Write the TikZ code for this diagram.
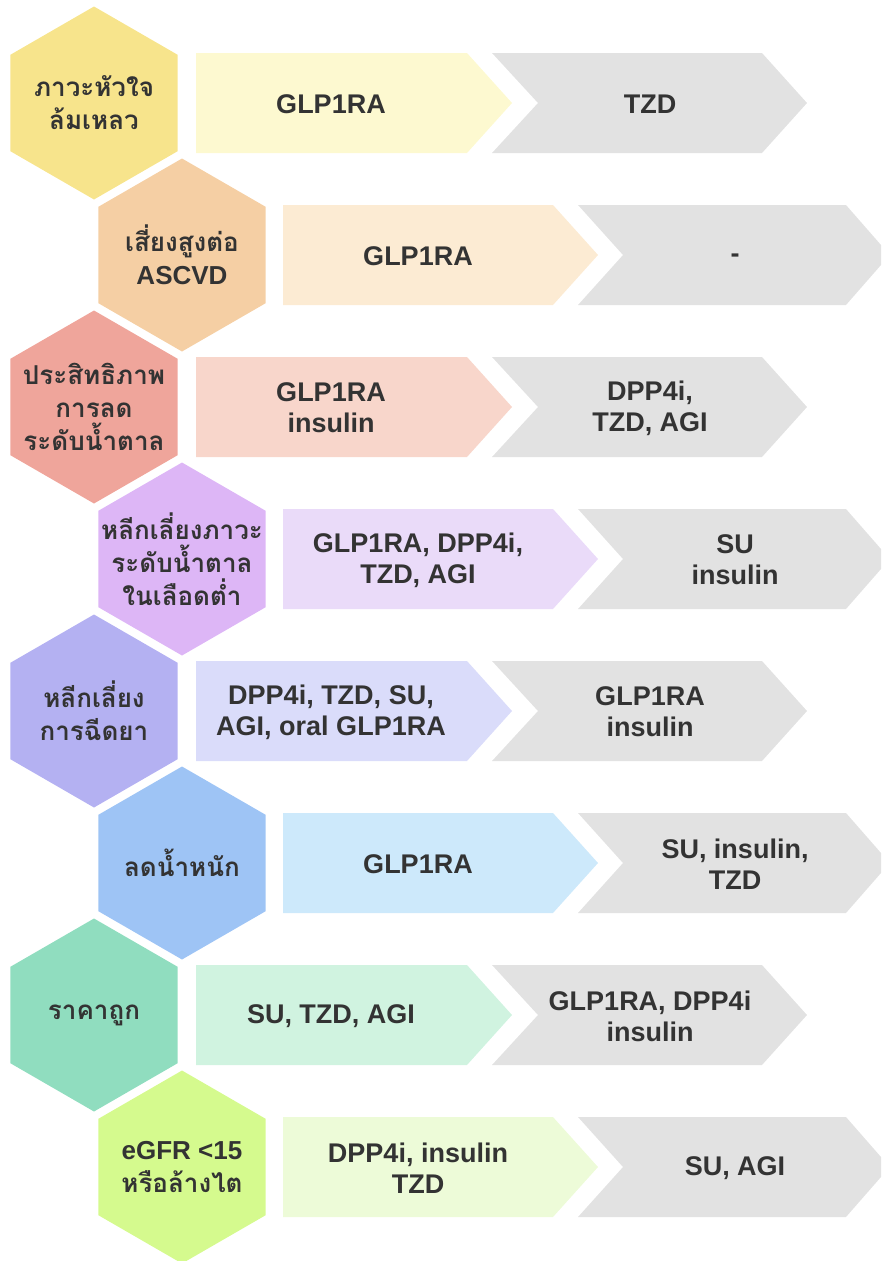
\documentclass[tikz,border=0pt]{standalone}
\usepackage{fontspec}
\setmainfont{Liberation Sans}
\newfontfamily\thaifont[Script=Thai]{Loma}
\usepackage{xcolor}
\usetikzlibrary{shapes.geometric}

\definecolor{ink}{HTML}{333333}
\definecolor{restgray}{HTML}{E2E2E2}
\definecolor{hexA}{HTML}{F7E48C}  \definecolor{softA}{HTML}{FDF9D0}
\definecolor{hexB}{HTML}{F5CFA4}  \definecolor{softB}{HTML}{FCEBD3}
\definecolor{hexC}{HTML}{EFA59B}  \definecolor{softC}{HTML}{F8D6CB}
\definecolor{hexD}{HTML}{DDB6F6}  \definecolor{softD}{HTML}{EADBF9}
\definecolor{hexE}{HTML}{B4B1F2}  \definecolor{softE}{HTML}{DADCFA}
\definecolor{hexF}{HTML}{9EC4F5}  \definecolor{softF}{HTML}{CDE9FB}
\definecolor{hexG}{HTML}{90DDBF}  \definecolor{softG}{HTML}{D0F3E0}
\definecolor{hexH}{HTML}{D5FA8E}  \definecolor{softH}{HTML}{EDFBD8}

\begin{document}
\begin{tikzpicture}[x=1pt, y=-1pt,
      hexa/.style={regular polygon, regular polygon sides=6, regular polygon rotate=30,
                   minimum size=193pt, inner sep=0pt, draw=none},
      hexlbl/.style={align=center, text=ink, inner sep=0pt,
                     font=\bfseries\fontsize{26}{33}\selectfont},
      txt/.style={align=center, text=ink, inner sep=0pt,
                  font=\bfseries\fontsize{27}{31}\selectfont},
      rest/.style={fill=restgray, draw=none},
    ]
    \useasboundingbox (0,0) rectangle (881,1261);

    % Heart failure
    \node[hexa, fill=hexA] (h1) at (94,103) {};
    \node[hexlbl] (h1t) at (h1) {\thaifont ภาวะหัวใจ\\\thaifont ล้มเหลว};
    \fill[softA] (196,53) -- ++(271,0) -- ++(45,50) -- ++(-45,50) -- ++(-271,0) -- cycle;
    \node[txt] (p1) at (331,104) {GLP1RA};
    \fill[rest] (492,53) -- ++(270,0) -- ++(45,50) -- ++(-45,50) -- ++(-270,0) -- ++(46,-50) -- cycle;
    \node[txt] (g1) at (650,104) {TZD};

    % ASCVD risk
    \node[hexa, fill=hexB] (h2) at (182,255) {};
    \node[hexlbl] (h2t) at (h2) {\thaifont เสี่ยงสูงต่อ\\ASCVD};
    \fill[softB] (283,205) -- ++(270,0) -- ++(45,50) -- ++(-45,50) -- ++(-270,0) -- cycle;
    \node[txt] (p2) at (418,256) {GLP1RA};
    \fill[rest] (578,205) -- ++(268,0) -- ++(35,40) -- ++(0,20) -- ++(-35,40) -- ++(-268,0) -- ++(45,-50) -- cycle;
    \node[txt] (g2) at (735,258) {-};

    % Glucose lowering
    \node[hexa, fill=hexC] (h3) at (94,407) {};
    \node[hexlbl] (h3t) at (h3) {\thaifont ประสิทธิภาพ\\\thaifont การลด\\\thaifont ระดับน้ำตาล};
    \fill[softC] (196,357) -- ++(271,0) -- ++(45,50) -- ++(-45,50) -- ++(-271,0) -- cycle;
    \node[txt] (p3) at (331,408) {GLP1RA\\insulin};
    \fill[rest] (492,357) -- ++(270,0) -- ++(45,50) -- ++(-45,50) -- ++(-270,0) -- ++(46,-50) -- cycle;
    \node[txt] (g3) at (650,408) {DPP4i,\\TZD, AGI};

    % Hypoglycemia
    \node[hexa, fill=hexD] (h4) at (182,559) {};
    \node[hexlbl] (h4t) at (h4) {\thaifont หลีกเลี่ยงภาวะ\\\thaifont ระดับน้ำตาล\\\thaifont ในเลือดต่ำ};
    \fill[softD] (283,509) -- ++(270,0) -- ++(45,50) -- ++(-45,50) -- ++(-270,0) -- cycle;
    \node[txt] (p4) at (418,560) {GLP1RA, DPP4i,\\TZD, AGI};
    \fill[rest] (578,509) -- ++(268,0) -- ++(35,40) -- ++(0,20) -- ++(-35,40) -- ++(-268,0) -- ++(45,-50) -- cycle;
    \node[txt] (g4) at (735,560) {SU\\insulin};

    % No injection
    \node[hexa, fill=hexE] (h5) at (94,711) {};
    \node[hexlbl] (h5t) at (h5) {\thaifont หลีกเลี่ยง\\\thaifont การฉีดยา};
    \fill[softE] (196,661) -- ++(271,0) -- ++(45,50) -- ++(-45,50) -- ++(-271,0) -- cycle;
    \node[txt] (p5) at (331,712) {DPP4i, TZD, SU,\\AGI, oral GLP1RA};
    \fill[rest] (492,661) -- ++(270,0) -- ++(45,50) -- ++(-45,50) -- ++(-270,0) -- ++(46,-50) -- cycle;
    \node[txt] (g5) at (650,712) {GLP1RA\\insulin};

    % Weight loss
    \node[hexa, fill=hexF] (h6) at (182,863) {};
    \node[hexlbl] (h6t) at (h6) {\thaifont ลดน้ำหนัก};
    \fill[softF] (283,813) -- ++(270,0) -- ++(45,50) -- ++(-45,50) -- ++(-270,0) -- cycle;
    \node[txt] (p6) at (418,864) {GLP1RA};
    \fill[rest] (578,813) -- ++(268,0) -- ++(35,40) -- ++(0,20) -- ++(-35,40) -- ++(-268,0) -- ++(45,-50) -- cycle;
    \node[txt] (g6) at (735,864) {SU, insulin,\\TZD};

    % Low cost
    \node[hexa, fill=hexG] (h7) at (94,1015) {};
    \node[hexlbl] (h7t) at (h7) {\thaifont ราคาถูก};
    \fill[softG] (196,965) -- ++(271,0) -- ++(45,50) -- ++(-45,50) -- ++(-271,0) -- cycle;
    \node[txt] (p7) at (331,1016) {SU, TZD, AGI};
    \fill[rest] (492,965) -- ++(270,0) -- ++(45,50) -- ++(-45,50) -- ++(-270,0) -- ++(46,-50) -- cycle;
    \node[txt] (g7) at (650,1016) {GLP1RA, DPP4i\\insulin};

    % Kidney failure
    \node[hexa, fill=hexH] (h8) at (182,1167) {};
    \node[hexlbl] (h8t) at (h8) {eGFR <15\\\thaifont หรือล้างไต};
    \fill[softH] (283,1117) -- ++(270,0) -- ++(45,50) -- ++(-45,50) -- ++(-270,0) -- cycle;
    \node[txt] (p8) at (418,1168) {DPP4i, insulin\\TZD};
    \fill[rest] (578,1117) -- ++(268,0) -- ++(35,40) -- ++(0,20) -- ++(-35,40) -- ++(-268,0) -- ++(45,-50) -- cycle;
    \node[txt] (g8) at (735,1168) {SU, AGI};

  \end{tikzpicture}
\end{document}
